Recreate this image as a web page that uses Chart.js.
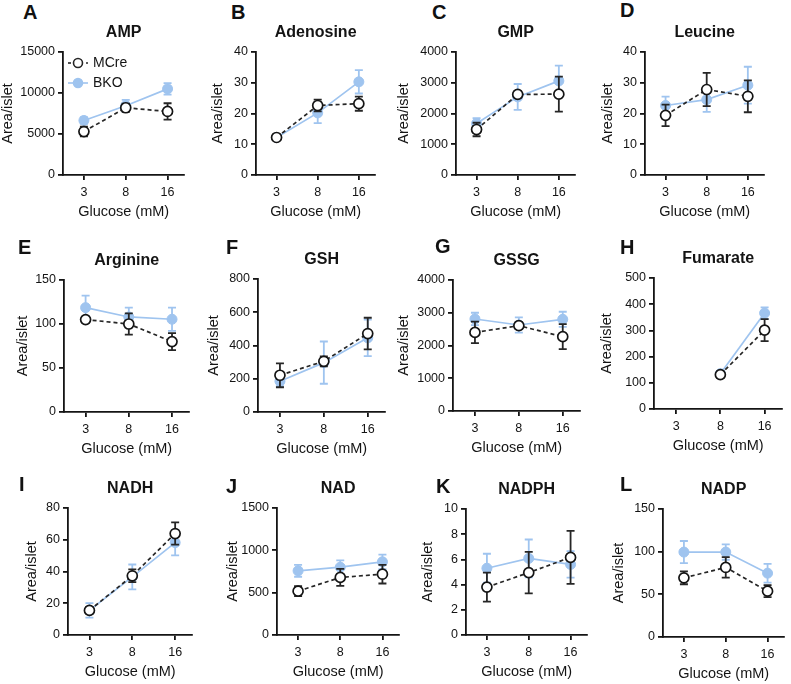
<!DOCTYPE html>
<html lang="en">
<head>
<meta charset="UTF-8">
<title>Islet metabolites vs glucose</title>
<script src="https://cdn.jsdelivr.net/npm/chart.js"></script>
<style>
    body { margin: 0; background: #fff; }
    #figure { position: relative; width: 791px; height: 684px; overflow: hidden; background: #fff; }
    #figure canvas { position: absolute; }
    .panel-letter { position: absolute; font: bold 20px "Liberation Sans", Arial, sans-serif; color: #111; line-height: 22px; }
</style>
</head>
<body>
<div id="figure"></div>
<script>
    // x categories
    const glucose = ['3', '8', '16'];

    const letters = ['A', 'B', 'C', 'D', 'E', 'F', 'G', 'H', 'I', 'J', 'K', 'L'];
    const titles = ['AMP', 'Adenosine', 'GMP', 'Leucine', 'Arginine', 'GSH', 'GSSG', 'Fumarate', 'NADH', 'NAD', 'NADPH', 'NADP'];
    const seriesNames = ['MCre', 'BKO'];
    const yMax = [15000, 40, 4000, 40, 150, 800, 4000, 500, 80, 1500, 10, 150];
    const yStep = [5000, 10, 1000, 10, 50, 200, 1000, 100, 20, 500, 2, 50];

    // MCre (open circles, dashed)
    const mcreMean = [
        [5300, 8200, 7750],
        [12.2, 22.6, 23.2],
        [1480, 2620, 2630],
        [19.4, 27.8, 25.6],
        [105, 100, 80],
        [221, 305, 472],
        [2400, 2605, 2270],
        [null, 131, 301],
        [15.5, 37.3, 63.9],
        [518, 680, 718],
        [3.8, 4.95, 6.16],
        [69.3, 81.5, 53.7]
    ];
    const mcreSem = [
        [600, 500, 1000],
        [0.8, 1.9, 2.3],
        [220, 100, 570],
        [3.5, 5.4, 5.2],
        [3, 12, 9.7],
        [72, 30, 95],
        [330, 100, 380],
        [null, 12, 42],
        [2, 4, 7],
        [60, 100, 110],
        [1.15, 1.65, 2.1],
        [7.5, 12, 7]
    ];

    // BKO (filled blue circles, solid)
    const bkoMean = [
        [6650, 8450, 10500],
        [12.2, 20.2, 30.3],
        [1675, 2540, 3060],
        [22.6, 24.5, 29.2],
        [118.6, 108, 105.4],
        [185, 297, 446],
        [2810, 2626, 2800],
        [null, 135, 366],
        [15.5, 36.6, 58.2],
        [758, 801, 864],
        [5.3, 6.08, 5.6],
        [99.5, 99.5, 74.8]
    ];
    const bkoSem = [
        [400, 700, 700],
        [0.7, 3.3, 3.8],
        [170, 420, 500],
        [2.9, 4, 6],
        [13.6, 10.6, 13.2],
        [30, 127, 110],
        [190, 230, 230],
        [null, 10, 22],
        [4.6, 7.8, 8],
        [70, 80, 85],
        [1.15, 1.5, 1.05],
        [13, 9, 11]
    ];

    // layout: plot left, plot top, plot bottom, plot width, y-axis box width
    const panelBoxes = [
        [63, 52, 175, 122, 64],
        [256, 52, 175, 120, 47],
        [456, 52, 175, 120, 61],
        [645, 52, 175, 120, 46],
        [64, 280, 412, 126, 50],
        [258, 279, 412, 128, 53],
        [453, 280, 411, 128, 58],
        [654, 278, 409, 129, 56],
        [68, 508, 635, 125, 45],
        [277, 508, 635, 123, 53],
        [466, 509, 635, 122, 47],
        [663, 509, 637, 122, 53]
    ];
    const letterPos = [
        [30, 12], [238, 12], [439, 12], [627, 10],
        [25, 247], [233, 247], [442, 246], [627, 247],
        [26, 484], [233, 486], [443, 486], [627, 484]
    ];

    const BLUE = '#9fc4ef';
    const DARK = '#262626';
    const INK = '#141414';
    const FONT = '"Liberation Sans", Arial, sans-serif';

    Chart.defaults.font.family = FONT;
    Chart.defaults.color = INK;

    const figure = document.getElementById('figure');

    const errorBars = {
        id: 'errorBars',
        beforeDatasetDraw(chart, args) {
            const ds = chart.data.datasets[args.index];
            const xs = chart.scales.x;
            const ys = chart.scales.y;
            const ctx = chart.ctx;
            ctx.save();
            ctx.strokeStyle = ds.errorColor;
            ctx.lineWidth = 1.8;
            ds.data.forEach((p, k) => {
                const e = ds.errors[k];
                const px = xs.getPixelForValue(p.x);
                const hi = ys.getPixelForValue(p.y + e);
                const lo = ys.getPixelForValue(p.y - e);
                ctx.beginPath();
                ctx.moveTo(px, hi);
                ctx.lineTo(px, lo);
                ctx.moveTo(px - 4, hi);
                ctx.lineTo(px + 4, hi);
                ctx.moveTo(px - 4, lo);
                ctx.lineTo(px + 4, lo);
                ctx.stroke();
            });
            ctx.restore();
        }
    };

    function legendIcon(dashed, color, fill) {
        const c = document.createElement('canvas');
        c.width = 20;
        c.height = 12;
        const g = c.getContext('2d');
        g.strokeStyle = color;
        g.lineWidth = 1.6;
        if (dashed) g.setLineDash([3, 3]);
        g.beginPath();
        g.moveTo(0, 6);
        g.lineTo(20, 6);
        g.stroke();
        g.setLineDash([]);
        g.beginPath();
        g.arc(10, 6, 4.5, 0, Math.PI * 2);
        g.fillStyle = fill;
        g.fill();
        g.stroke();
        return c;
    }

    const legendIcons = [legendIcon(true, DARK, '#fff'), legendIcon(false, BLUE, BLUE)];

    // small legend inside the plot area (panel A only)
    const insideLegend = {
        id: 'insideLegend',
        afterDatasetsDraw(chart, args, opts) {
            if (!opts.show) return;
            const ctx = chart.ctx;
            const area = chart.chartArea;
            ctx.save();
            ctx.font = '14px ' + FONT;
            ctx.fillStyle = INK;
            ctx.textBaseline = 'middle';
            seriesNames.forEach((name, k) => {
                const y = area.top + 11 + k * 20;
                ctx.drawImage(legendIcons[k], area.left + 5, y - 6);
                ctx.fillText(name, area.left + 30, y);
            });
            ctx.restore();
        }
    };

    function toPoints(means) {
        const pts = [];
        means.forEach((v, k) => {
            if (v !== null) pts.push({x: k, y: v});
        });
        return pts;
    }

    function keepErrors(sems) {
        return sems.filter(v => v !== null);
    }

    function buildPanel(i) {
        const [left, top, bottom, plotW, yw] = panelBoxes[i];
        const titleH = 29, xAxisH = 46, rightPad = 6;

        const canvas = document.createElement('canvas');
        canvas.width = yw + plotW + rightPad;
        canvas.height = titleH + (bottom - top) + xAxisH;
        canvas.style.left = (left - yw) + 'px';
        canvas.style.top = (top - titleH) + 'px';
        figure.appendChild(canvas);

        const letter = document.createElement('div');
        letter.className = 'panel-letter';
        letter.textContent = letters[i];
        letter.style.left = (letterPos[i][0] - 7) + 'px';
        letter.style.top = (letterPos[i][1] - 11) + 'px';
        figure.appendChild(letter);

        new Chart(canvas, {
            type: 'line',
            data: {
                datasets: [
                    {
                        label: seriesNames[0],
                        data: toPoints(mcreMean[i]),
                        errors: keepErrors(mcreSem[i]),
                        errorColor: DARK,
                        borderColor: DARK,
                        borderWidth: 1.7,
                        borderDash: [4, 3],
                        pointRadius: 5,
                        pointBackgroundColor: '#fff',
                        pointBorderColor: INK,
                        pointBorderWidth: 1.7
                    },
                    {
                        label: seriesNames[1],
                        data: toPoints(bkoMean[i]),
                        errors: keepErrors(bkoSem[i]),
                        errorColor: BLUE,
                        borderColor: BLUE,
                        borderWidth: 1.7,
                        pointRadius: 5,
                        pointBackgroundColor: BLUE,
                        pointBorderColor: BLUE,
                        pointBorderWidth: 1
                    }
                ]
            },
            options: {
                responsive: false,
                animation: false,
                events: [],
                layout: {padding: {left: 0, right: rightPad, top: 0, bottom: 0}},
                plugins: {
                    tooltip: {enabled: false},
                    legend: {display: false},
                    insideLegend: {show: i === 0},
                    title: {
                        display: true,
                        text: titles[i],
                        fullSize: false,
                        color: INK,
                        font: {size: 16, weight: 'bold', lineHeight: 1.25},
                        padding: {top: 0, bottom: 9}
                    }
                },
                scales: {
                    x: {
                        type: 'linear',
                        min: -0.5,
                        max: 2.4,
                        afterBuildTicks: s => { s.ticks = glucose.map((g, k) => ({value: k})); },
                        afterFit: s => { s.height = xAxisH; },
                        ticks: {
                            callback: v => glucose[v],
                            color: INK,
                            font: {size: 12.5},
                            padding: 5,
                            maxRotation: 0,
                            autoSkip: false
                        },
                        grid: {drawOnChartArea: false, drawTicks: true, tickLength: 5, color: INK, lineWidth: 1.8},
                        border: {color: INK, width: 1.8},
                        title: {display: true, text: 'Glucose (mM)', color: INK, font: {size: 14.5}, padding: 0}
                    },
                    y: {
                        min: 0,
                        max: yMax[i],
                        afterFit: s => { s.width = yw; },
                        ticks: {
                            stepSize: yStep[i],
                            callback: v => String(v),
                            color: INK,
                            font: {size: 12.5},
                            padding: 3
                        },
                        grid: {drawOnChartArea: false, drawTicks: true, tickLength: 5, color: INK, lineWidth: 1.8},
                        border: {color: INK, width: 1.8},
                        title: {display: true, text: 'Area/islet', color: INK, font: {size: 14.5}, padding: 0}
                    }
                }
            },
            plugins: [errorBars, insideLegend]
        });
    }

    for (let i = 0; i < titles.length; i++) {
        buildPanel(i);
    }
</script>
</body>
</html>
